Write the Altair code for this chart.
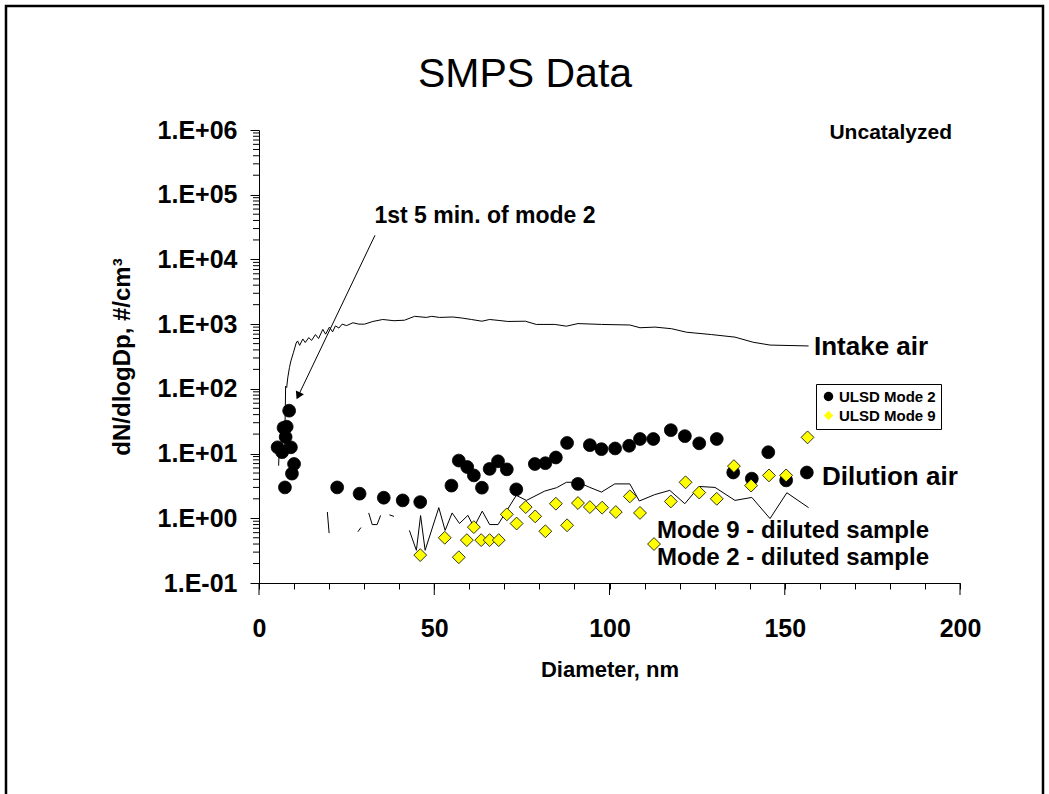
import altair as alt
import pandas as pd

# ---------------- data ----------------
mode2_x = [5.3, 6.6, 7.0, 7.4, 7.6, 7.9, 8.6, 9.1, 9.4, 10.0, 22.3, 28.7, 35.6, 41.0, 46.0,
           54.9, 57.0, 59.4, 61.3, 63.6, 65.8, 68.2, 70.7, 73.4, 78.7, 81.7, 84.7, 87.9, 91.0,
           94.4, 97.7, 101.6, 105.6, 108.7, 112.5, 117.5, 121.5, 125.6, 130.6, 135.3, 140.6,
           145.3, 150.4, 156.3]
mode2_y = [12.5, 10.5, 25, 3.0, 18, 26, 46, 12.5, 4.9, 6.9, 3.0, 2.4, 2.08, 1.89, 1.78,
           3.2, 7.8, 6.2, 4.6, 2.97, 5.8, 7.6, 5.7, 2.8, 6.9, 7.1, 8.7, 14.6, 3.4,
           13.5, 11.7, 12.0, 13.2, 16.8, 16.8, 23.0, 18.6, 14.4, 16.8, 5.1, 4.1,
           10.5, 3.85, 5.1]

mode9_x = [46.0, 53.0, 57.0, 59.3, 61.3, 63.4, 65.8, 68.4, 70.7, 73.5, 76.1, 78.8, 81.7,
           84.7, 87.9, 91.0, 94.4, 97.9, 101.8, 105.8, 108.7, 112.7, 117.5, 121.7, 125.6,
           130.6, 135.5, 140.4, 145.5, 150.4, 156.5]
mode9_y = [0.27, 0.50, 0.25, 0.46, 0.73, 0.46, 0.46, 0.46, 1.15, 0.83, 1.49, 1.07, 0.63,
           1.68, 0.78, 1.72, 1.49, 1.46, 1.25, 2.18, 1.21, 0.40, 1.82, 3.6, 2.5,
           2.0, 6.4, 3.2, 4.6, 4.6, 17.8]

intake_x = [5.6, 5.8, 7.3, 7.6, 7.9, 8.2, 8.7, 9.1, 9.8, 10.6, 11.0, 11.6, 12.5, 13.2, 14.2,
            15.0, 16.1, 17.0, 18.2, 19.0, 20.1, 21.0, 21.8, 22.8, 23.7, 25.0, 26.8, 28.5,
            30.1, 32.5, 35.3, 38.5, 41.5, 44.4, 47.7, 49.3, 51.5, 55.3, 58.0, 60.6, 63.6,
            65.8, 68.5, 71.0, 76.0, 79.1, 84.4, 87.7, 91.0, 97.7, 105.8, 108.7, 113.0,
            117.7, 122.0, 129.1, 135.8, 141.0, 145.8, 156.8]
intake_y = [6.5, 13, 10, 110, 105, 148, 215, 270, 360, 510, 550, 470, 590, 520, 620,
            560, 690, 600, 830, 700, 900, 760, 940, 870, 1000, 950, 1050, 1000,
            1000, 1100, 1180, 1130, 1150, 1320, 1270, 1320, 1270, 1290, 1240, 1180, 1110,
            1180, 1140, 1100, 1110, 990, 990, 930, 1020, 990, 970, 880, 900,
            850, 750, 690, 630, 525, 475, 460]

dil_x = [19.5, 20.0, 28.2, 29.1, 31.3, 32.3, 33.7, 34.7, 37.2, 38.5,
         42.9, 44.9, 46.1, 47.4, 51.3, 53.1, 55.1, 57.2, 59.6, 61.3, 63.7, 65.8, 68.2,
         73.4, 76.3, 81.5, 84.9, 87.7, 91.0, 94.4, 97.7, 101.5, 105.8, 108.5, 112.9,
         117.2, 121.5, 125.6, 130.1, 135.8, 140.6, 145.8, 150.6, 156.8]
dil_y = [1.25, 0.59, 0.62, 0.72, 1.21, 0.80, 0.80, 1.11, 1.13, 1.07,
         0.65, 0.32, 1.10, 0.32, 1.46, 0.65, 1.21, 0.83, 1.11, 0.73, 1.29, 0.80, 0.80,
         2.26, 1.89, 2.63, 2.97, 3.6, 3.6, 3.0, 2.54, 3.4, 3.4, 1.85, 2.32,
         2.7, 1.68, 3.1, 3.0, 1.89, 2.1, 0.99, 2.48, 1.46]
dil_seg = ["a", "a", "b", "b", "c", "c", "c", "c", "d", "d"] + ["e"] * 34

series_names = ["ULSD Mode 2", "ULSD Mode 9"]
y_ticks = [0.1, 1, 10, 100, 1000, 10000, 100000, 1000000]
y_minor = [m * d for d in [0.1, 1, 10, 100, 1000, 10000, 100000] for m in range(2, 10)]
x_ticks = list(range(0, 201, 10))
x_major = [0, 50, 100, 150, 200]

arrow_x = [33.1, 11.2]
arrow_y = [23660, 78]

# ---------------- layout ----------------
W, H = 701, 453
PL, PT = 259, 130
FONT = "Liberation Sans"

xscale = alt.Scale(domain=[0, 200], nice=False, zero=False)
yscale = alt.Scale(type="log", domain=[0.1, 1000000], nice=False)

x_axis = alt.Axis(values=x_ticks, title="Diameter, nm",
                  labelExpr="datum.value % 50 == 0 ? datum.label : ''",
                  labelFlush=False, labelOverlap=False, grid=False,
                  tickSize=6, labelPadding=27, labelFontSize=25, labelFont=FONT,
                  labelFontWeight="bold", labelColor="black",
                  titleFont=FONT, titleFontSize=22, titleFontWeight="bold", titleColor="black",
                  titleY=86, titleBaseline="middle",
                  domainColor="black", tickColor="black")
y_axis = alt.Axis(values=y_ticks, title="dN/dlogDp, #/cm³",
                  labelExpr="datum.value < 1 ? '1.E-01' : '1.E+0' + format(log(datum.value) / LN10, '.0f')",
                  labelFlush=False, labelOverlap=False, grid=False,
                  tickSize=9, labelPadding=13, labelFontSize=25, labelFont=FONT,
                  labelFontWeight="bold", labelColor="black",
                  titleFont=FONT, titleFontSize=24, titleFontWeight="bold", titleColor="black",
                  titleX=-137, titleBaseline="middle",
                  domainColor="black", tickColor="black")


def X(field):
    return alt.X(field, scale=xscale, axis=x_axis)


def Y(field):
    return alt.Y(field, scale=yscale, axis=y_axis)


one = pd.DataFrame({"k": [0]})

# lines
intake_df = pd.DataFrame({"x": intake_x, "y": intake_y})
intake = alt.Chart(intake_df).mark_line(color="black", strokeWidth=1).encode(
    x=X("x:Q"), y=Y("y:Q"),
)

dil_df = pd.DataFrame({"x": dil_x, "y": dil_y, "seg": dil_seg})
dil = alt.Chart(dil_df).mark_line(color="black", strokeWidth=1).encode(
    x=X("x:Q"), y=Y("y:Q"), detail="seg:N",
)

# points
pts_df = pd.DataFrame({
    "x": mode2_x + mode9_x,
    "y": mode2_y + mode9_y,
    "series": [series_names[0]] * len(mode2_x) + [series_names[1]] * len(mode9_x),
})
legend = alt.Legend(title=None, orient="none", legendX=557, legendY=254,
                    strokeColor="black", padding=5, fillColor="white",
                    labelFont=FONT, labelFontSize=15, labelFontWeight="bold", labelColor="black",
                    symbolSize=90, symbolStrokeColor="black", symbolStrokeWidth=0.8,
                    rowPadding=3, labelOffset=3, cornerRadius=0)
points = alt.Chart(pts_df).mark_point(filled=True, stroke="black", strokeWidth=0.8, opacity=1).encode(
    x=X("x:Q"), y=Y("y:Q"),
    shape=alt.Shape("series:N", scale=alt.Scale(domain=series_names, range=["circle", "diamond"]), legend=legend),
    fill=alt.Fill("series:N", scale=alt.Scale(domain=series_names, range=["black", "#FFFF00"]), legend=legend),
    size=alt.value(165),
)

# minor ticks
yminor_df = pd.DataFrame({"y": y_minor})
yminor = alt.Chart(yminor_df).mark_rule(color="black", strokeWidth=1).encode(
    y=Y("y:Q"), x=alt.value(-6), x2=alt.value(0),
)
xmajor_df = pd.DataFrame({"x": x_major})
xmajor = alt.Chart(xmajor_df).mark_rule(color="black", strokeWidth=1).encode(
    x=X("x:Q"), y=alt.value(H), y2=alt.value(H + 12),
)

# arrow
arrow_df = pd.DataFrame({"x": [arrow_x[0]], "y": [arrow_y[0]], "x2": [arrow_x[1]], "y2": [arrow_y[1]]})
arrow_line = alt.Chart(arrow_df).mark_rule(color="black", strokeWidth=1).encode(
    x=X("x:Q"), x2="x2:Q", y=Y("y:Q"), y2="y2:Q",
)
head_df = pd.DataFrame({"x": [arrow_x[1]], "y": [arrow_y[1]]})
arrow_head = alt.Chart(head_df).mark_point(shape="triangle-up", filled=True, color="black",
                                           angle=205.5, size=80, opacity=1).encode(
    x=X("x:Q"), y=Y("y:Q"),
)


def label(txt, x, y, size, align="left", weight="bold"):
    return alt.Chart(one).mark_text(text=txt, font=FONT, fontSize=size, fontWeight=weight,
                                    align=align, baseline="middle", color="black").encode(
        x=alt.value(x), y=alt.value(y))


texts = [
    label("SMPS Data", 266, -55, 41, align="center", weight="normal"),
    label("Uncatalyzed", 693, 3, 21, align="right"),
    label("1st 5 min. of mode 2", 226, 86, 23, align="center"),
    label("Intake air", 555, 217, 26),
    label("Dilution air", 563, 347, 26),
    label("Mode 9 - diluted sample", 398, 401, 24),
    label("Mode 2 - diluted sample", 398, 428, 24),
]

frame = alt.Chart(one).mark_rect(fill="transparent", stroke="black", strokeWidth=2.5).encode(
    x=alt.value(6 - PL), x2=alt.value(1043 - PL), y=alt.value(6 - PT), y2=alt.value(830 - PT))

chart = alt.layer(intake, dil, yminor, xmajor, arrow_line, arrow_head, points, *texts, frame).properties(
    width=W, height=H,
    autosize=alt.AutoSizeParams(type="none"),
    padding={"left": PL, "top": PT, "right": 1049 - PL - W, "bottom": 794 - PT - H},
    background="white",
).configure_view(stroke="transparent")

chart.save("out.html", embed_options={"renderer": "svg", "actions": False})
